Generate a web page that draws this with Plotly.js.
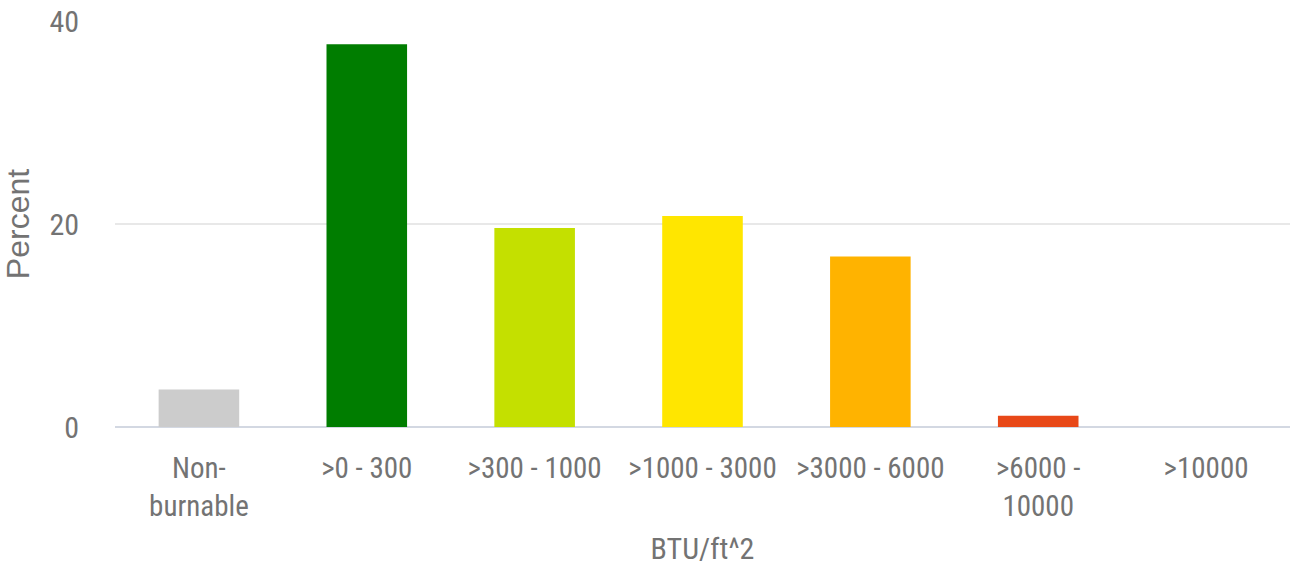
<!DOCTYPE html>
<html><head><meta charset="utf-8">
<script src="https://cdn.plot.ly/plotly-3.0.1.min.js"></script>
<style>body{margin:0;background:#fff}#chart{width:1297px;height:576px}</style>
</head><body><div id="chart"></div>
<script>
const categories = ["Non-<br>burnable", ">0 - 300", ">300 - 1000", ">1000 - 3000", ">3000 - 6000", ">6000 -<br>10000", ">10000"];
const percentValues = [3.7, 37.7, 19.6, 20.8, 16.8, 1.1, 0];
const barColors = ["#cccccc", "#007d00", "#c4e000", "#ffe600", "#ffb300", "#e84818", "#e84818"];
const yTickValues = [0, 20, 40];
const yTickLabels = ["0", "20", "40"];

const narrow = "'Liberation Sans Narrow', 'Roboto Condensed', Roboto, sans-serif";
const txt = "#737373";
Plotly.newPlot("chart", [{
  type: "bar",
  x: categories,
  y: percentValues,
  marker: {color: barColors},
  hoverinfo: "x+y"
}], {
  width: 1297, height: 576,
  margin: {l: 115, r: 7, t: 21, b: 149},
  paper_bgcolor: "#fff", plot_bgcolor: "#fff",
  bargap: 0.52,
  showlegend: false,
  font: {family: narrow, color: txt, size: 29},
  xaxis: {
    type: "category",
    showgrid: false, showline: false, zeroline: false,
    ticks: "", ticklabelstandoff: 21,
    tickfont: {family: narrow, size: 29, color: txt},
    title: {text: "BTU/ft^2", font: {family: narrow, size: 30, color: txt}, standoff: 16}
  },
  yaxis: {
    range: [0, 40], tickvals: yTickValues, ticktext: yTickLabels,
    showgrid: true, gridcolor: "#e8e8e8", gridwidth: 2,
    zeroline: true, zerolinecolor: "#d3d8e2", zerolinewidth: 2,
    showline: false, ticks: "", ticklabelstandoff: 35,
    tickfont: {family: narrow, size: 30, color: txt},
    title: {text: "Percent", font: {family: "'Liberation Sans', Arial, sans-serif", size: 32, color: txt}, standoff: 15}
  }
}, {displayModeBar: false});
</script></body></html>
